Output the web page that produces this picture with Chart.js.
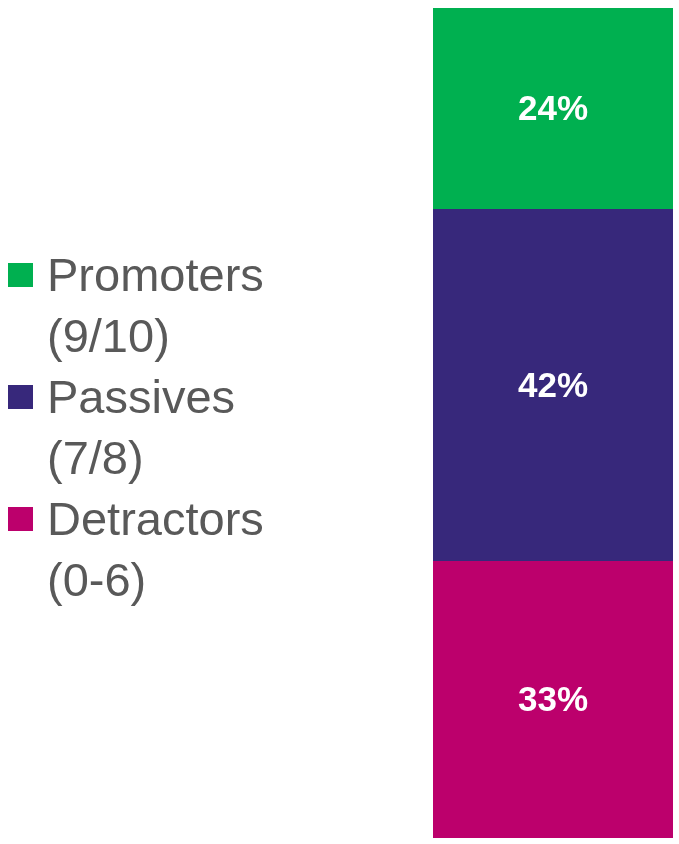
<!DOCTYPE html>
<html>
<head>
<meta charset="utf-8">
<script src="https://cdn.jsdelivr.net/npm/chart.js@4.4.1/dist/chart.umd.min.js"></script>
<style>
  html, body { margin: 0; padding: 0; background: #fff; }
  #wrap { position: relative; width: 679px; height: 844px; }
  #legend { position: absolute; left: 8px; top: 244px; font-family: "Liberation Sans", Arial, sans-serif; font-size: 47px; line-height: 61px; color: #595959; }
  .item { position: relative; padding-left: 39px; }
  .box { position: absolute; left: 0; top: 19px; width: 25px; height: 24px; }
</style>
</head>
<body>
<div id="wrap">
  <canvas id="myChart" width="679" height="844"></canvas>
  <div id="legend"></div>
</div>
<script>
// データ
const categories = ["NPS"];
const seriesNames = ["Promoters", "Passives", "Detractors"];
const seriesNotes = ["(9/10)", "(7/8)", "(0-6)"];
const promoters = [24];
const passives = [42];
const detractors = [33];
const colors = ["#00B050", "#37287B", "#BC006C"];

const total = promoters[0] + passives[0] + detractors[0];

// 凡例 (HTML)
const legend = document.getElementById("legend");
seriesNames.forEach((name, i) => {
  const div = document.createElement("div");
  div.className = "item";
  div.innerHTML = `<span class="box" style="background:${colors[i]}"></span>${name}<br>${seriesNotes[i]}`;
  legend.appendChild(div);
});

// バーの中にラベルを描く
const labelPlugin = {
  id: "barLabels",
  afterDatasetsDraw(chart) {
    const ctx = chart.ctx;
    ctx.save();
    ctx.fillStyle = "#ffffff";
    ctx.font = "bold 35px 'Liberation Sans', Arial, sans-serif";
    ctx.textAlign = "center";
    ctx.textBaseline = "middle";
    chart.data.datasets.forEach((ds, i) => {
      chart.getDatasetMeta(i).data.forEach((bar, j) => {
        const p = bar.getProps(["x", "y", "base"], true);
        ctx.fillText(ds.data[j] + "%", p.x, (p.y + p.base) / 2 + 2);
      });
    });
    ctx.restore();
  },
};

const ctx = document.getElementById("myChart").getContext("2d");
const chart = new Chart(ctx, {
  type: "bar",
  data: {
    labels: categories,
    datasets: [
      { label: seriesNames[2], data: detractors, backgroundColor: colors[2] },
      { label: seriesNames[1], data: passives, backgroundColor: colors[1] },
      { label: seriesNames[0], data: promoters, backgroundColor: colors[0] },
    ],
  },
  options: {
    responsive: false,
    animation: false,
    layout: { padding: { left: 433, right: 6, top: 8, bottom: 6 } },
    datasets: { bar: { barPercentage: 1, categoryPercentage: 1, borderWidth: 0 } },
    plugins: { legend: { display: false }, tooltip: { enabled: false } },
    scales: {
      x: { stacked: true, display: false },
      y: { stacked: true, display: false, min: 0, max: total },
    },
  },
  plugins: [labelPlugin],
});
</script>
</body>
</html>
